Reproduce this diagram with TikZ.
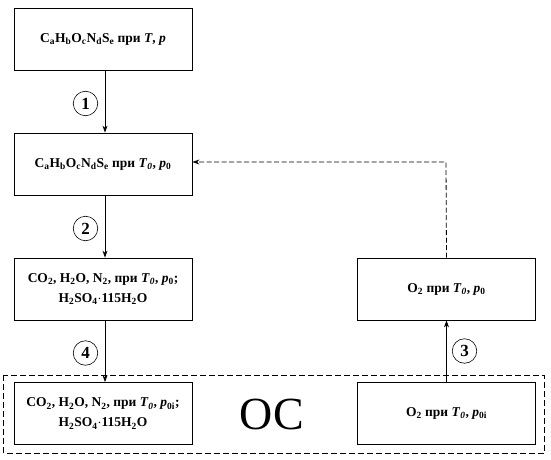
\documentclass[tikz,border=0pt]{standalone}
\usepackage{fontspec}
\setmainfont{Liberation Serif}
\usetikzlibrary{arrows.meta}
\newcommand{\sbs}[1]{\textsubscript{#1}}
\begin{document}
\begin{tikzpicture}[x=1pt,y=-1pt,
  box/.style={draw,line width=0.8pt,minimum width=178pt,minimum height=62pt,align=center,font=\bfseries\fontsize{13.5}{20}\selectfont,inner sep=0pt},
  num/.style={draw,circle,line width=0.6pt,minimum size=24.5pt,inner sep=0pt,font=\bfseries\fontsize{17}{17}\selectfont},
  arr/.style={line width=0.8pt,-{Stealth[length=7pt,width=5pt]}}]
\useasboundingbox (0,0) rectangle (551,460);
\node[box] (b1) at (103,39) {C\sbs{a}H\sbs{b}O\sbs{c}N\sbs{d}S\sbs{e} при \textit{T}, \textit{p}};
\node[box] (b2) at (103,164) {C\sbs{a}H\sbs{b}O\sbs{c}N\sbs{d}S\sbs{e} при \textit{T}\sbs{\textit{0}}, \textit{p}\sbs{0}};
\node[box] (b3) at (103,289) {CO\sbs{2}, H\sbs{2}O, N\sbs{2}, при \textit{T}\sbs{\textit{0}}, \textit{p}\sbs{0};\\H\sbs{2}SO\sbs{4}$\cdot$115H\sbs{2}O};
\node[box] (b4) at (103,413.5) {CO\sbs{2}, H\sbs{2}O, N\sbs{2}, при \textit{T}\sbs{\textit{0}}, \textit{p}\sbs{0i};\\H\sbs{2}SO\sbs{4}$\cdot$115H\sbs{2}O};
\node[box] (r1) at (446.5,289) {O\sbs{2} при \textit{T}\sbs{\textit{0}}, \textit{p}\sbs{0}};
\node[box] (r2) at (446.5,413.5) {O\sbs{2} при \textit{T}\sbs{\textit{0}}, \textit{p}\sbs{0i}};
\draw[dashed,line width=0.7pt,dash pattern=on 6pt off 3pt] (3.5,375) rectangle (544,453);
\node[font=\fontsize{46}{46}\selectfont] (oc) at (272,414) {ОС};
\node[num] (n1) at (85.5,103.5) {1};
\node[num] (n2) at (85.5,228.5) {2};
\node[num] (n4) at (85.5,353) {4};
\node[num] (n3) at (464.5,351) {3};
\draw[arr] (b1.south -| 105,0) -- (b2.north -| 105,0);
\draw[arr] (b2.south -| 105,0) -- (b3.north -| 105,0);
\draw[arr] (b3.south -| 105,0) -- (b4.north -| 105,0);
\draw[arr] (r2.north) -- (r1.south);
\coordinate (c1) at (446,162);
\draw[arr,dash pattern=on 5pt off 2.5pt,line width=0.8pt] (r1.north) -- (c1) -- (b2.east |- c1);
\end{tikzpicture}
\end{document}
